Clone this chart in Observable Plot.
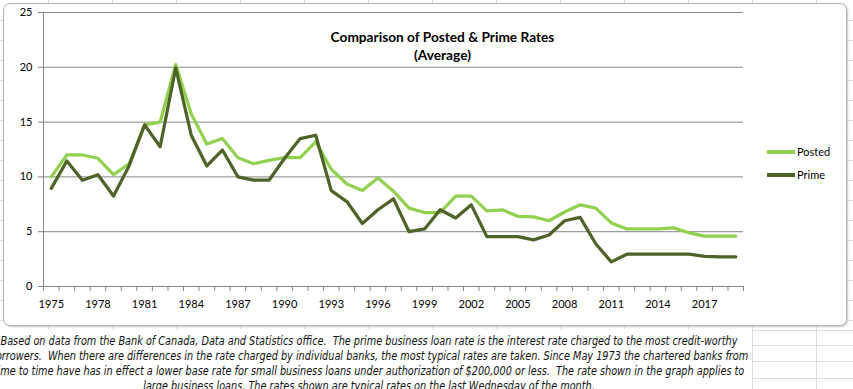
<!DOCTYPE html>
<html><head><meta charset="utf-8">
<script src="https://cdn.jsdelivr.net/npm/d3@7"></script>
<script src="https://cdn.jsdelivr.net/npm/@observablehq/plot@0.6"></script>
<style>
html,body{margin:0;padding:0;background:#fff;overflow:hidden;width:853px;height:389px;}
#sheet{position:absolute;left:0;top:0;width:853px;height:389px;overflow:hidden;background:#fff;}
.vl{position:absolute;top:0;width:1px;height:389px;background:#dadcdd;}
.hl{position:absolute;left:0;height:1px;width:853px;background:#dadcdd;}
#frame{position:absolute;left:3px;top:3px;width:842px;height:321px;border:1px solid #b4b4b4;border-radius:7px;background:#fff;box-shadow:1px 1px 2px #c8c8c8;}
#chart{position:absolute;left:0;top:0;}
.lg{position:absolute;left:767px;height:14px;font-family:Lato,sans-serif;font-size:11px;line-height:14px;color:#000;white-space:nowrap;}
.sw{display:inline-block;width:28px;height:4px;vertical-align:middle;margin-right:2px;position:relative;top:-1px;}
#note{position:absolute;left:0;top:329px;width:752px;height:60px;background:#fff;overflow:visible;}
#noteInner{position:absolute;left:369px;top:5px;font-family:"Liberation Sans Narrow","Arial Narrow","DejaVu Sans Condensed",sans-serif;font-style:italic;font-size:12px;line-height:15px;text-align:center;white-space:pre;color:#111;}
</style>
</head>
<body>
<div id="sheet"></div>
<script>
// ---- data ----
const years = [1975,1976,1977,1978,1979,1980,1981,1982,1983,1984,1985,1986,1987,1988,1989,1990,1991,1992,1993,1994,1995,1996,1997,1998,1999,2000,2001,2002,2003,2004,2005,2006,2007,2008,2009,2010,2011,2012,2013,2014,2015,2016,2017,2018,2019];
const posted = [10.0,12.0,12.0,11.7,10.2,11.2,14.75,15.0,20.25,15.75,13.0,13.5,11.75,11.2,11.5,11.75,11.75,13.2,10.7,9.35,8.75,9.9,8.7,7.15,6.75,6.75,8.25,8.25,6.9,7.0,6.4,6.35,6.0,6.8,7.45,7.15,5.8,5.25,5.25,5.25,5.35,4.9,4.6,4.6,4.6];
const prime = [8.95,11.45,9.7,10.2,8.25,11.0,14.75,12.75,19.95,13.8,11.0,12.45,10.0,9.7,9.7,11.7,13.5,13.8,8.75,7.75,5.75,7.0,8.0,5.0,5.25,7.0,6.25,7.45,4.55,4.55,4.55,4.25,4.7,6.0,6.3,3.9,2.25,2.95,2.95,2.95,2.95,2.95,2.75,2.7,2.7];
const seriesNames = ["Posted","Prime"];
const seriesColors = ["#92D050","#4F6228"];
const labelYears = [1975,1978,1981,1984,1987,1990,1993,1996,1999,2002,2005,2008,2011,2014,2017];
const yTicks = [0,5,10,15,20,25];
const titleLines = ["Comparison of Posted & Prime Rates","(Average)"];
const noteLines = [
"Based on data from the Bank of Canada, Data and Statistics office.  The prime business loan rate is the interest rate charged to the most credit-worthy",
"borrowers.  When there are differences in the rate charged by individual banks, the most typical rates are taken. Since May 1973 the chartered banks from",
"time to time have has in effect a lower base rate for small business loans under authorization of $200,000 or less.  The rate shown in the graph applies to",
"large business loans. The rates shown are typical rates on the last Wednesday of the month."
];

// ---- spreadsheet background ----
const sheet = document.getElementById("sheet");
for (let x = 48; x < 853; x += 64) { const d = document.createElement("div"); d.className = "vl"; d.style.left = x + "px"; sheet.appendChild(d); }
[330,345,361,378].forEach(y => { const d = document.createElement("div"); d.className = "hl"; d.style.top = y + "px"; sheet.appendChild(d); });
for (let y = 20; y < 330; y += 20) { const d = document.createElement("div"); d.className = "hl"; d.style.top = y + "px"; sheet.appendChild(d); }
const frame = document.createElement("div"); frame.id = "frame"; sheet.appendChild(frame);

// ---- chart ----
const rows = years.flatMap((yr, i) => [
  {year: yr, rate: posted[i], series: seriesNames[0]},
  {year: yr, rate: prime[i], series: seriesNames[1]}
]);
const bounds = years.map(y => y - 0.5).concat([years[years.length - 1] + 0.5]);
const grey = "#868686";
const chart = Plot.plot({
  width: 853, height: 330,
  marginLeft: 43, marginRight: 110, marginTop: 12, marginBottom: 44,
  style: {fontFamily: "Lato, sans-serif", fontSize: "11px", color: "#000", background: "transparent", overflow: "visible"},
  x: {type: "linear", domain: [bounds[0], bounds[bounds.length - 1]]},
  y: {domain: [0, 25]},
  color: {domain: seriesNames, range: seriesColors},
  marks: [
    Plot.gridY(yTicks, {stroke: grey, strokeOpacity: 1}),
    Plot.axisY(yTicks, {tickSize: 5, tickPadding: 6, stroke: grey, label: null, tickFormat: d => String(d)}),
    Plot.axisX(bounds, {tickSize: 5, tickFormat: () => "", stroke: grey, label: null}),
    Plot.axisX(labelYears, {tickSize: 0, tickPadding: 14, tickFormat: d => String(d), label: null}),
    Plot.ruleX([bounds[0]], {stroke: grey}),
    Plot.ruleY([0], {stroke: grey}),
    Plot.line(rows, {x: "year", y: "rate", z: "series", stroke: "series", strokeWidth: 3.25}),
    Plot.text([titleLines[0]], {frameAnchor: "top", dx: 49, dy: 20, fontWeight: "bold", fontSize: 13.7}),
    Plot.text([titleLines[1]], {frameAnchor: "top", dx: 49, dy: 38, fontWeight: "bold", fontSize: 13.7})
  ]
});
chart.id = "chart";
sheet.appendChild(chart);

// ---- legend ----
seriesNames.forEach((name, i) => {
  const d = document.createElement("div");
  d.className = "lg";
  d.style.top = (145 + i * 23) + "px";
  d.innerHTML = `<span class="sw" style="background:${seriesColors[i]}"></span>${name}`;
  sheet.appendChild(d);
});

// ---- note ----
const note = document.createElement("div");
note.id = "note";
const inner = document.createElement("div");
inner.id = "noteInner";
inner.textContent = noteLines.join("\n");
note.appendChild(inner);
sheet.appendChild(note);
// fit the first line to the width it takes in the reference
const probe = document.createElement("span");
probe.style.cssText = getComputedStyle(inner).cssText;
probe.style.font = getComputedStyle(inner).font;
probe.style.position = "absolute"; probe.style.visibility = "hidden"; probe.style.whiteSpace = "pre";
probe.textContent = noteLines[0];
document.body.appendChild(probe);
const w1 = probe.getBoundingClientRect().width;
probe.remove();
const k = 737 / w1;
inner.style.transformOrigin = "0 0";
inner.style.transform = `translateX(-50%) scaleX(${k})`;
inner.style.transform = `scaleX(${k}) translateX(-50%)`;
</script>
</body></html>
